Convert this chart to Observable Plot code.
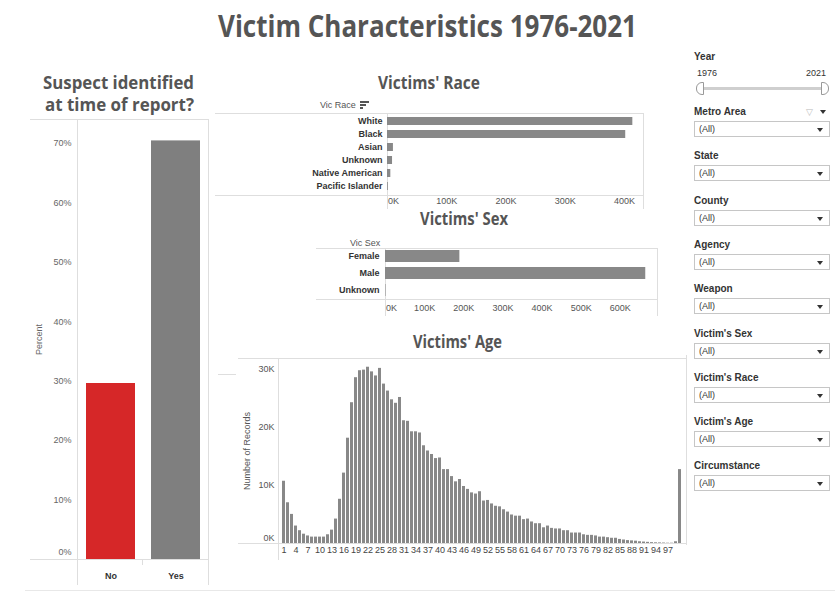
<!DOCTYPE html>
<html><head><meta charset="utf-8">
<script src="https://cdn.jsdelivr.net/npm/d3@7"></script>
<script src="https://cdn.jsdelivr.net/npm/@observablehq/plot@0.6"></script>
<style>
body{margin:0;background:#fff;font-family:"Liberation Sans",Arial,sans-serif;}
#root{position:relative;width:839px;height:592px;overflow:hidden;background:#fff;}
.abs{position:absolute;}
.hl{position:absolute;height:1px;background:#dedede;}
.vl{position:absolute;width:1px;background:#dedede;}
.flab{position:absolute;left:694px;font-weight:bold;font-size:10px;color:#333;line-height:12px;}
.box{position:absolute;left:694px;width:134px;height:14px;border:1px solid #c6c6c6;background:#fff;}
.box span{position:absolute;left:4px;top:1px;font-size:9px;color:#333;line-height:12px;}
.arr{position:absolute;width:0;height:0;border-left:3px solid transparent;border-right:3px solid transparent;border-top:4px solid #333;}
.hdr{position:absolute;font-size:9px;color:#555;line-height:11px;}
</style>
</head><body>
<div id="root"></div>
<script>
// ---------- data ----------
const suspectLabels = ["No", "Yes"];
const suspectPct = [0.296, 0.704];
const pctTicks = [0.1, 0.2, 0.3, 0.4, 0.5, 0.6, 0.7];

const raceCats = ["White", "Black", "Asian", "Unknown", "Native American", "Pacific Islander"];
const raceCounts = [414000, 402000, 10000, 8500, 5600, 1300];
const raceTicks = [100000, 200000, 300000, 400000];

const sexCats = ["Female", "Male", "Unknown"];
const sexCounts = [190000, 665000, 1200];
const sexTicks = [100000, 200000, 300000, 400000, 500000, 600000];

const ageCats = ("1 2 3 4 5 6 7 8 9 10 11 12 13 14 15 16 17 18 19 20 21 22 23 24 25 26 27 28 29 30 " +
  "31 32 33 34 35 36 37 38 39 40 41 42 43 44 45 46 47 48 49 50 51 52 53 54 55 56 57 58 59 60 " +
  "61 62 63 64 65 66 67 68 69 70 71 72 73 74 75 76 77 78 79 80 81 82 83 84 85 86 87 88 89 90 " +
  "91 92 93 94 95 96 97 98 99 999").split(" ");
const ageCounts = [
  10700, 7000, 5000, 3000, 2200, 1600, 1300, 1100, 1100, 1100,
  1100, 1500, 2300, 4200, 7600, 12100, 18100, 24200, 28500, 29700,
  29800, 30300, 29500, 28800, 30100, 27400, 26200, 24700, 24100, 25100,
  21100, 21000, 19200, 19200, 19000, 16800, 15900, 15300, 14600, 14700,
  12700, 12700, 11500, 10600, 11000, 9800, 9300, 8700, 8500, 8900,
  7300, 7400, 6800, 6400, 6300, 5800, 5400, 4900, 4700, 4700,
  4100, 4200, 3700, 3400, 3400, 2700, 3000, 2600, 2500, 2500,
  2200, 2200, 1800, 1800, 1800, 1500, 1400, 1400, 1300, 1100,
  1100, 1000, 900, 900, 700, 600, 500, 450, 400, 300,
  250, 200, 150, 120, 100, 80, 50, 50, 300, 12700];
const ageTicks = ["1","4","7","10","13","16","19","22","25","28","31","34","37","40","43","46","49",
  "52","55","58","61","64","67","70","73","76","79","82","85","88","91","94","97"];
const countTicks = [10000, 20000, 30000];

const filterNames = ["Metro Area", "State", "County", "Agency", "Weapon", "Victim's Sex", "Victim's Race", "Victim's Age", "Circumstance"];
const yearRange = ["1976", "2021"];

// ---------- helpers ----------
const root = document.getElementById("root");
function place(el, left, top) {
  const d = document.createElement("div");
  d.className = "abs"; d.style.left = left + "px"; d.style.top = top + "px";
  d.appendChild(el); root.appendChild(d); return d;
}
function div(cls, css, html) {
  const d = document.createElement("div"); d.className = cls;
  Object.assign(d.style, css); if (html !== undefined) d.innerHTML = html;
  root.appendChild(d); return d;
}
const kfmt = d => (d / 1000) + "K";
const baseStyle = {background: "transparent", fontFamily: "Liberation Sans, Arial, sans-serif", fontSize: "9px", overflow: "visible", color: "#555"};

// ---------- titles (svg text) ----------
const NS = "http://www.w3.org/2000/svg";
const tsvg = document.createElementNS(NS, "svg");
tsvg.setAttribute("width", 839); tsvg.setAttribute("height", 592);
tsvg.style.position = "absolute"; tsvg.style.left = "0"; tsvg.style.top = "0"; tsvg.style.pointerEvents = "none";
// lines: [text, x0, x1, baseline]
function title(lines, size) {
  const t = document.createElementNS(NS, "text");
  t.setAttribute("font-family", "Open Sans, Noto Sans, sans-serif");
  t.setAttribute("font-weight", "700"); t.setAttribute("font-size", size);
  t.setAttribute("fill", "#555");
  lines.forEach(([txt, x0, x1, base]) => {
    const s = document.createElementNS(NS, "tspan");
    s.setAttribute("x", x0); s.setAttribute("y", base);
    s.setAttribute("textLength", x1 - x0); s.setAttribute("lengthAdjust", "spacingAndGlyphs");
    s.textContent = txt; t.appendChild(s);
  });
  tsvg.appendChild(t);
}

// ---------- frame lines ----------
// left chart
div("hl", {left: "30px", top: "119px", width: "178px"});
div("hl", {left: "30px", top: "559px", width: "178px"});
div("vl", {left: "77px", top: "119px", height: "466px"});
div("vl", {left: "208px", top: "119px", height: "466px"});
div("vl", {left: "142px", top: "559px", height: "6px"});
// race chart
div("hl", {left: "215px", top: "113px", width: "429px"});
div("hl", {left: "215px", top: "195px", width: "429px"});
div("vl", {left: "387px", top: "113px", height: "96px"});
div("vl", {left: "643px", top: "113px", height: "96px"});
// sex chart
div("hl", {left: "316px", top: "248px", width: "342px"});
div("hl", {left: "316px", top: "299px", width: "342px"});
div("vl", {left: "385px", top: "248px", height: "68px"});
div("vl", {left: "657px", top: "248px", height: "68px"});
// age chart
div("hl", {left: "238px", top: "358px", width: "449px"});
div("hl", {left: "238px", top: "543px", width: "449px"});
div("vl", {left: "278px", top: "358px", height: "202px"});
div("vl", {left: "686px", top: "355px", height: "190px"});
div("hl", {left: "218px", top: "374px", width: "18px"});
// bottom rule
div("hl", {left: "25px", top: "590px", width: "810px", background: "#e8e8e8"});

// ---------- left chart: suspect identified ----------
const suspectData = suspectLabels.map((k, i) => ({k, v: suspectPct[i]}));
place(Plot.plot({
  width: 178, height: 466, marginLeft: 47, marginRight: 0, marginTop: 0, marginBottom: 26,
  style: baseStyle,
  x: {domain: suspectLabels, paddingInner: 0.25, paddingOuter: 0.125, axis: null},
  y: {domain: [0, 0.74], axis: null},
  color: {domain: suspectLabels, range: ["#d62728", "#7f7f7f"]},
  marks: [
    Plot.barY(suspectData, {x: "k", y: "v", fill: "k"}),
    Plot.axisY({ticks: pctTicks, tickFormat: d3.format(".0%"), tickSize: 0, tickPadding: 6, fill: "#666",
      label: "Percent", labelAnchor: "center", labelArrow: "none", labelOffset: 42}),
    Plot.axisY({ticks: [0], tickFormat: d3.format(".0%"), tickSize: 0, tickPadding: 6, fill: "#666", dy: -7, label: null}),
    Plot.axisX({tickSize: 0, tickPadding: 13, fill: "#333", fontWeight: "bold", label: null})
  ]
}), 30, 119);

// ---------- race chart ----------
const raceData = raceCats.map((k, i) => ({k, v: raceCounts[i]}));
place(Plot.plot({
  width: 428, height: 96, marginLeft: 172, marginRight: 0, marginTop: 0, marginBottom: 14,
  style: baseStyle,
  x: {domain: [0, 432000], axis: null},
  y: {domain: raceCats, paddingInner: 0.35, paddingOuter: 0.175, axis: null},
  marks: [
    Plot.barX(raceData, {x: "v", y: "k", fill: "#888"}),
    Plot.axisY({tickSize: 0, tickPadding: 5, fill: "#333", fontWeight: "bold", label: null}),
    Plot.axisX({ticks: raceTicks, tickFormat: kfmt, tickSize: 0, tickPadding: 2, fill: "#555", label: null}),
    Plot.axisX({ticks: [0], tickFormat: kfmt, tickSize: 0, tickPadding: 2, fill: "#555", dx: 6, label: null})
  ]
}), 215, 113);

// ---------- sex chart ----------
const sexData = sexCats.map((k, i) => ({k, v: sexCounts[i]}));
place(Plot.plot({
  width: 341, height: 72, marginLeft: 69, marginRight: 0, marginTop: 0, marginBottom: 21,
  style: baseStyle,
  x: {domain: [0, 695000], axis: null},
  y: {domain: sexCats, paddingInner: 0.28, paddingOuter: 0.14, axis: null},
  marks: [
    Plot.barX(sexData, {x: "v", y: "k", fill: "#888"}),
    Plot.axisY({tickSize: 0, tickPadding: 6, fill: "#333", fontWeight: "bold", label: null}),
    Plot.axisX({ticks: sexTicks, tickFormat: kfmt, tickSize: 0, tickPadding: 5, fill: "#555", label: null}),
    Plot.axisX({ticks: [0], tickFormat: kfmt, tickSize: 0, tickPadding: 5, fill: "#555", dx: 6, label: null})
  ]
}), 316, 248);

// ---------- age chart ----------
const ageData = ageCats.map((a, i) => ({a, n: ageCounts[i]}));
place(Plot.plot({
  width: 448, height: 205, marginLeft: 40, marginRight: 0, marginTop: 0, marginBottom: 20,
  style: baseStyle,
  x: {domain: ageCats, paddingInner: 0.22, paddingOuter: 0.11, axis: null},
  y: {domain: [0, 31800], axis: null},
  marks: [
    Plot.barY(ageData, {x: "a", y: "n", fill: "#888"}),
    Plot.axisY({ticks: countTicks, tickFormat: kfmt, tickSize: 0, tickPadding: 4, fill: "#555",
      label: "Number of Records", labelAnchor: "center", labelArrow: "none", labelOffset: 35}),
    Plot.axisY({ticks: [0], tickFormat: kfmt, tickSize: 0, tickPadding: 4, fill: "#555", dy: -5, label: null}),
    Plot.axisX({ticks: ageTicks, tickSize: 0, tickPadding: 3, fill: "#444", label: null})
  ]
}), 238, 358);

// headers
div("hdr", {left: "320px", top: "100px"}, "Vic Race");
div("hdr", {left: "350px", top: "238px"}, "Vic Sex");
// sort icon
[9, 6, 3].forEach((w, i) => div("abs", {left: "360px", top: (101 + i * 3) + "px", width: w + "px", height: "1.5px", background: "#555"}));

// titles
title([["Victim Characteristics 1976-2021", 218, 637, 37]], 30);
title([["Suspect identified", 43, 194, 89], ["at time of report?", 45, 194, 111]], 17);
title([["Victims' Race", 378, 480, 89]], 18);
title([["Victims' Sex", 420, 508, 225]], 17);
title([["Victims' Age", 413, 502, 348]], 18);
root.appendChild(tsvg);

// ---------- right panel: filters ----------
div("flab", {top: "51px"}, "Year");
div("abs", {left: "697px", top: "68px", fontSize: "9px", color: "#333"}, yearRange[0]);
div("abs", {left: "806px", top: "68px", fontSize: "9px", color: "#333"}, yearRange[1]);
div("abs", {left: "700px", top: "87px", width: "124px", height: "3px", background: "#cfcfcf"});
div("abs", {left: "696px", top: "82px", width: "6px", height: "11px", border: "1px solid #999", borderRadius: "6px 0 0 6px", background: "#fff"});
div("abs", {left: "821px", top: "82px", width: "6px", height: "11px", border: "1px solid #999", borderRadius: "0 6px 6px 0", background: "#fff"});

const labelCenters = [112, 156.3, 200.6, 244.9, 289.2, 333.5, 377.8, 422.1, 466.4];
filterNames.forEach((name, i) => {
  const c = labelCenters[i];
  div("flab", {top: (c - 6) + "px"}, name);
  div("box", {top: (c + 9) + "px"}, "<span>(All)</span>");
  div("arr", {left: "817px", top: (c + 16) + "px"});
});
// metro area icons
div("abs", {left: "806px", top: "107px", fontSize: "9px", color: "#bbb"}, "▽");
div("arr", {left: "820px", top: "110px"});
</script>
</body></html>
